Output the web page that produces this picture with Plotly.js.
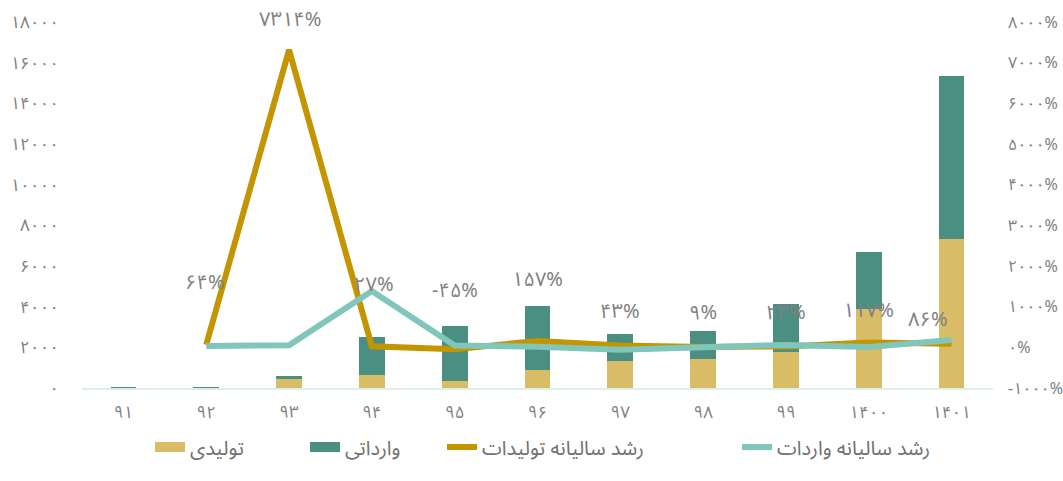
<!DOCTYPE html>
<html>
<head>
<meta charset="utf-8">
<script src="https://cdn.plot.ly/plotly-3.0.1.min.js"></script>
<style>html,body{margin:0;padding:0;background:#fff;}#chart{width:1063px;height:481px;}</style>
</head>
<body>
<div id="chart"></div>
<script>
// ---- data ----
const years = ['۹۱','۹۲','۹۳','۹۴','۹۵','۹۶','۹۷','۹۸','۹۹','۱۴۰۰','۱۴۰۱'];
const production = [4, 6, 460, 640, 352, 910, 1310, 1430, 1760, 3880, 7330];
const imports = [35, 55, 130, 1880, 2680, 3120, 1340, 1370, 2350, 2820, 7990];
const productionGrowth = [null, 64, 7314, 27, -45, 157, 43, 9, 23, 117, 86];
const importGrowth = [null, 35, 50, 1384, 44, 15, -57, 2, 60, 10, 180];
const leftTicks = [0, 2000, 4000, 6000, 8000, 10000, 12000, 14000, 16000, 18000];
const rightTicks = [-1000, 0, 1000, 2000, 3000, 4000, 5000, 6000, 7000, 8000];
const names = ['تولیدی', 'وارداتی', 'رشد سالیانه تولیدات', 'رشد سالیانه واردات'];

// ---- helpers ----
const fa = s => String(s).replace(/\d/g, d => '۰۱۲۳۴۵۶۷۸۹'[+d]);
const FONT = 'Noto Sans Arabic, Vazirmatn, DejaVu Sans, sans-serif';
const GREY = '#808080';
const C_PROD = '#D9BC66', C_IMP = '#4A8F81', C_PG = '#C39500', C_IG = '#80C6BA';

const traces = [
  {type:'bar', name:names[0], x:years, y:production, marker:{color:C_PROD}, width:0.31, showlegend:false},
  {type:'bar', name:names[1], x:years, y:imports, marker:{color:C_IMP}, width:0.31, showlegend:false},
  {type:'scatter', mode:'lines', name:names[2], x:years, y:productionGrowth, yaxis:'y2',
   line:{color:C_PG, width:6}, connectgaps:false, showlegend:false},
  {type:'scatter', mode:'lines', name:names[3], x:years, y:importGrowth, yaxis:'y2',
   line:{color:C_IG, width:6}, connectgaps:false, showlegend:false},
  // legend entries (no data), one legend each so they can be spaced like the reference
  {type:'scatter', mode:'lines', name:names[0], x:[null], y:[null], line:{color:C_PROD, width:14}, legend:'legend'},
  {type:'scatter', mode:'lines', name:names[1], x:[null], y:[null], line:{color:C_IMP, width:14}, legend:'legend2'},
  {type:'scatter', mode:'lines', name:names[2], x:[null], y:[null], line:{color:C_PG, width:6}, legend:'legend3'},
  {type:'scatter', mode:'lines', name:names[3], x:[null], y:[null], line:{color:C_IG, width:6}, legend:'legend4'}
];

// label offsets (styling only)
const yShift = [0, 62, 30, 61, 58, 61, 34, 34, 33, 32, 24];
const xShift = [0, -1, 1, 2, 0, 0, 0, 0, 0, 0, -24];
const annotations = [];
productionGrowth.forEach((v, i) => {
  if (v === null) return;
  annotations.push({
    x: years[i], y: v, xref:'x', yref:'y2', text: fa(v < 0 ? '-' + Math.abs(v) : v) + '%',
    showarrow:false, yshift:yShift[i], xshift:xShift[i],
    font:{family:FONT, size:20, color:GREY}
  });
});

const PL = 82, PW = 911;
const legendAt = px => ({orientation:'h', x:(px - PL) / PW, xanchor:'left',
  yref:'container', y:1 - 447 / 481, yanchor:'middle',
  font:{family:FONT, size:20, color:'#707070'}, itemwidth:30, bgcolor:'rgba(0,0,0,0)'});

const layout = {
  width:1063, height:481,
  margin:{l:PL, r:70, t:22, b:93, autoexpand:false},
  paper_bgcolor:'#ffffff', plot_bgcolor:'#ffffff',
  barmode:'stack',
  font:{family:FONT, color:GREY, size:17},
  showlegend:true,
  legend:legendAt(150), legend2:legendAt(305), legend3:legendAt(442), legend4:legendAt(737),
  xaxis:{type:'category', showgrid:false, zeroline:false, showline:true, linecolor:'#DDEFEA', linewidth:2,
         ticks:'', tickfont:{family:FONT, size:17, color:GREY}, ticklabelstandoff:8,
         range:[-0.5, 10.5]},
  yaxis:{range:[0, 18000], showgrid:false, zeroline:false, showline:false, ticks:'',
         tickvals:leftTicks, ticktext:leftTicks.map(fa), ticklabelstandoff:22,
         tickfont:{family:FONT, size:17, color:GREY}},
  yaxis2:{range:[-1000, 8000], overlaying:'y', side:'right', showgrid:false, zeroline:false,
          showline:false, ticks:'', tickvals:rightTicks,
          ticktext:rightTicks.map(v => (v < 0 ? '-' + fa(Math.abs(v)) : fa(v)) + '%'),
          ticklabelstandoff:14, tickfont:{family:FONT, size:16, color:GREY}},
  annotations: annotations
};

Plotly.newPlot('chart', traces, layout, {displayModeBar:false, staticPlot:true});
</script>
</body>
</html>
